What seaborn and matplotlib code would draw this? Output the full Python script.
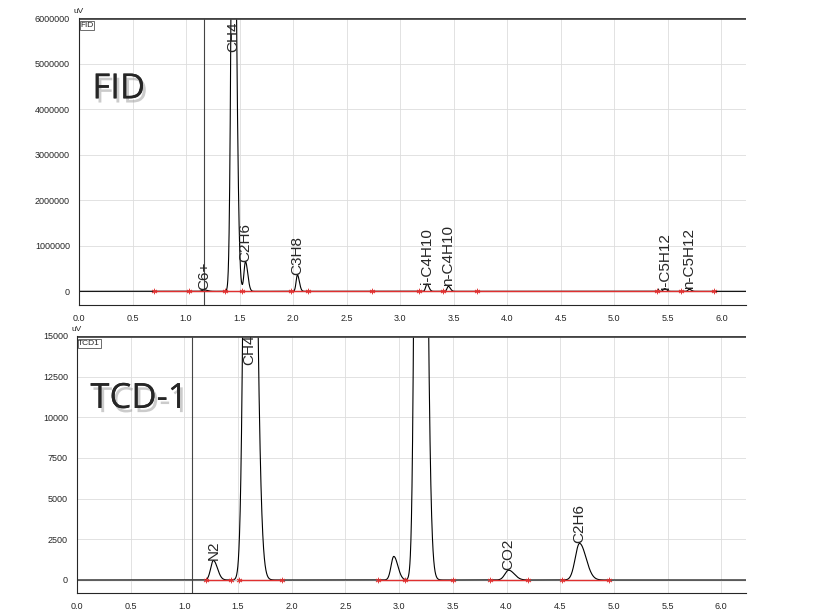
import numpy as np
import matplotlib
matplotlib.use("Agg")
import matplotlib.pyplot as plt
import matplotlib.patheffects as pe
import seaborn as sns

sns.set_style("white")
plt.rcParams['font.family'] = ['Liberation Sans', 'DejaVu Sans']

# FID peaks
fid_names = ["C6+", "CH4", "C2H6", "C3H8", "i-C4H10", "n-C4H10", "i-C5H12", "n-C5H12"]
fid_rt = [1.17, 1.44, 1.555, 2.04, 3.25, 3.45, 5.47, 5.70]
fid_h = [30000, 12000000, 650000, 360000, 160000, 110000, 60000, 45000]
fid_w = [0.02, 0.018, 0.014, 0.012, 0.012, 0.012, 0.012, 0.012]
fid_base_marks = [0.70, 1.03, 1.36, 1.52, 1.98, 2.14, 2.74, 3.18, 3.40, 3.72, 5.40, 5.62, 5.93]
fid_label_y = [20000, 5250000, 650000, 360000, 160000, 110000, 60000, 45000]

# TCD peaks
tcd_names = ["N2", "CH4", "", "", "CO2", "C2H6"]
tcd_rt = [1.27, 1.60, 2.95, 3.19, 4.02, 4.68]
tcd_h = [1200, 60000, 1450, 90000, 600, 2250]
tcd_w = [0.025, 0.035, 0.025, 0.03, 0.035, 0.04]
tcd_base_marks = [1.20, 1.43, 1.51, 1.91, 2.80, 3.05, 3.50, 3.85, 4.20, 4.52, 4.95]
tcd_label_y = [1200, 13200, 0, 0, 600, 2250]

def trace(x, rt, h, w):
    y = np.zeros_like(x)
    for r, hh, ww in zip(rt, h, w):
        s = np.where(x < r, ww, ww * 1.5)
        y += hh * np.exp(-0.5 * ((x - r) / s) ** 2)
    return y

x = np.linspace(0, 6.23, 6000)
fig = plt.figure(figsize=(8.16, 6.13), dpi=100)
ax1 = fig.add_axes([79/816, 1-305/613, (746-79)/816, (305-18)/613])
ax2 = fig.add_axes([77/816, 1-593/613, (746-77)/816, (593-336)/613])

def draw(ax, rt, h, w, names, laby, marks, ymin, ymax, yticks, vline, tag, big, bigpos, seg):
    y = trace(x, rt, h, w)
    sns.lineplot(x=x, y=y, ax=ax, color="black", lw=0.8)
    ax.axhline(0, color="#555555", lw=0.8, zorder=0)
    ax.axvline(vline, color="#444444", lw=0.8)
    ax.axhline(ymax, color="#444444", lw=2)
    for a, b in seg:
        ax.plot([a, b], [0, 0], color="#e03030", lw=1)
    ax.scatter(marks, [0]*len(marks), marker="$*$", color="#e03030", s=14, zorder=5, linewidths=0.3)
    for n, r, ly in zip(names, rt, laby):
        if n:
            ax.text(r, ly, n, rotation=90, ha="center", va="bottom", fontsize=11)
    ax.set_xlim(0, 6.23)
    ax.set_ylim(ymin, ymax)
    ax.set_xticks(np.arange(0, 6.01, 0.5))
    ax.set_xticklabels([f"{v:.1f}" for v in np.arange(0, 6.01, 0.5)], fontsize=6.5)
    ax.set_xticks(np.arange(0, 6.2, 0.1), minor=True)
    ax.set_yticks(yticks)
    ax.set_yticklabels([str(v) for v in yticks], fontsize=6.5)
    ax.tick_params(axis="both", which="both", direction="out", length=3, width=0.6)
    ax.tick_params(which="minor", length=2)
    ax.grid(True, color="#dddddd", lw=0.6)
    for s in ["top", "right"]:
        ax.spines[s].set_visible(False)
    ax.text(0.002, 0.985, tag, transform=ax.transAxes, fontsize=6, va="top",
            bbox=dict(boxstyle="square,pad=0.1", fc="white", ec="#555555", lw=0.6))
    ax.text(0.0, 1.012, "uV", transform=ax.transAxes, fontsize=6, va="bottom", ha="center")
    ax.text(bigpos[0], bigpos[1], big, transform=ax.transAxes, fontsize=25, family="Open Sans",
            path_effects=[pe.withSimplePatchShadow(offset=(2, -3), shadow_rgbFace="#999999", alpha=0.5), pe.Normal()])

draw(ax1, fid_rt, fid_h, fid_w, fid_names, fid_label_y, fid_base_marks,
     -300000, 6000000, [0, 1000000, 2000000, 3000000, 4000000, 5000000, 6000000],
     1.17, "FID", "FID", (0.02, 0.72), [(0.70, 5.93)])
draw(ax2, tcd_rt, tcd_h, tcd_w, tcd_names, tcd_label_y, tcd_base_marks,
     -800, 15000, [0, 2500, 5000, 7500, 10000, 12500, 15000],
     1.07, "TCD1", "TCD-1", (0.02, 0.72),
     [(1.20, 1.43), (1.51, 1.91), (2.80, 3.50), (3.85, 4.20), (4.52, 4.95)])

fig.savefig("out.png", dpi=100)
